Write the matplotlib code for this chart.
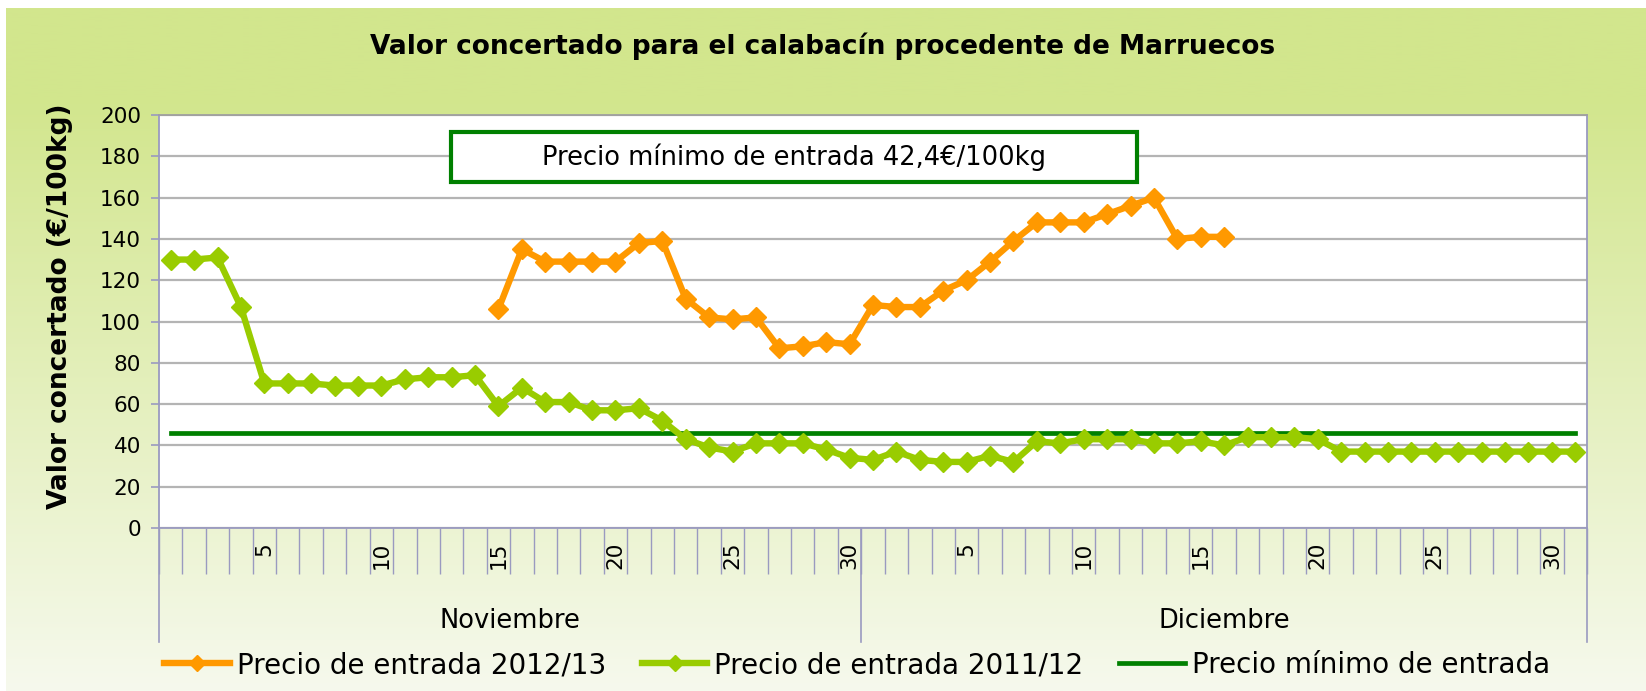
import matplotlib
matplotlib.use('Agg')
import matplotlib.pyplot as plt
import numpy as np
from matplotlib import font_manager
from matplotlib.patches import Rectangle
from matplotlib.colors import to_rgb

# ---------- DATA ----------
days = list(range(1, 31)) + list(range(1, 32))          # Nov 1..30, Dec 1..31
months = ['Noviembre', 'Diciembre']
month_len = [30, 31]

# Precio de entrada 2011/12 (one value per day)
precio_2011 = [130, 130, 131, 107, 70, 70, 70, 69, 69, 69,
               72, 73, 73, 74, 59, 68, 61, 61, 57, 57,
               58, 52, 43, 39, 37, 41, 41, 41, 38, 34,
               33, 37, 33, 32, 32, 35, 32, 42, 41, 43,
               43, 43, 41, 41, 42, 40, 44, 44, 44, 43,
               37, 37, 37, 37, 37, 37, 37, 37, 37, 37, 37]

# Precio de entrada 2012/13 (starts Nov 15, ends Dec 16)
precio_2012_start = 14
precio_2012 = [106, 135, 129, 129, 129, 129, 138, 139, 111, 102,
               101, 102, 87, 88, 90, 89, 108, 107, 107, 115,
               120, 129, 139, 148, 148, 148, 152, 156, 160, 140,
               141, 141]

# Precio minimo de entrada (as drawn)
precio_minimo = 46

yticks = list(range(0, 201, 20))
xtick_days = [5, 10, 15, 20, 25, 30]

# ---------- FONTS ----------
names = {f.name for f in font_manager.fontManager.ttflist}
narrow = 'Liberation Sans Narrow' if 'Liberation Sans Narrow' in names else 'DejaVu Sans'
plt.rcParams['font.family'] = [narrow, 'DejaVu Sans']

W, H = 1646, 691
fig = plt.figure(figsize=(W / 100, H / 100), dpi=100)

# background gradient
bg = fig.add_axes([6 / W, 0, 1 - 6 / W, 1 - 8 / H], zorder=-10)
top_c = np.array(to_rgb('#d2e68d'))
bot_c = np.array(to_rgb('#f6f9ed'))
t = np.clip(np.linspace(-0.15, 1.0, 256), 0, 1)[:, None]
grad = top_c * (1 - t) + bot_c * t
bg.imshow(grad[:, None, :], aspect='auto', extent=[0, 1, 0, 1])
bg.axis('off')

# plot area
L, R, T, B = 159, 1587, 115, 528
ax = fig.add_axes([L / W, 1 - B / H, (R - L) / W, (B - T) / H])
ax.set_facecolor('white')

n = len(days)
x = np.arange(n)
ax.plot(x, [precio_minimo] * n, color='#008000', lw=3.4, zorder=3,
        label='Precio mínimo de entrada')
ax.plot(x, precio_2011, color='#99cc00', lw=4.6, marker='D', ms=10, zorder=4,
        label='Precio de entrada 2011/12')
x12 = np.arange(precio_2012_start, precio_2012_start + len(precio_2012))
ax.plot(x12, precio_2012, color='#ff9900', lw=4.6, marker='D', ms=10, zorder=5,
        label='Precio de entrada 2012/13')

ax.set_xlim(-0.5, n - 0.5)
ax.set_ylim(0, 200)
ax.set_yticks(yticks)
ax.yaxis.grid(True, color='#b4b4b4', lw=1.6)
ax.set_axisbelow(True)
axis_c = '#9a9ac0'
for s in ax.spines.values():
    s.set_color(axis_c)
    s.set_linewidth(1.3)
ax.spines['top'].set_color('#a0a0a0')
ax.tick_params(axis='y', length=6, width=1.2, color=axis_c, pad=7, labelsize=15.5)

# x axis: day ticks per category, labels every 5
ax.set_xticks(np.arange(-0.5, n, 1.0), minor=True)
ax.tick_params(axis='x', which='minor', length=33, width=1.0, color=axis_c)
pos = []
lab = []
off = 0
for m, ln in zip(months, month_len):
    for d in xtick_days:
        if d <= ln:
            pos.append(off + d - 1)
            lab.append(str(d))
    off += ln
ax.set_xticks(pos)
ax.set_xticklabels(lab, rotation=90, fontsize=15.5)
ax.tick_params(axis='x', which='major', length=0, pad=10)

# month separators and labels
tr = ax.get_xaxis_transform()
depth = (642 - B) / (B - T)
off = 0
bounds = [-0.5]
for m, ln in zip(months, month_len):
    ax.text(off + (ln - 1) / 2, -(621 - B) / (B - T), m, transform=tr,
            ha='center', va='center', fontsize=18.5)
    off += ln
    bounds.append(off - 0.5)
for b in bounds:
    ax.plot([b, b], [0, -depth], transform=tr, color=axis_c, lw=1.2, clip_on=False)

# titles
fig.text(0.5, 1 - 46 / H, 'Valor concertado para el calabacín procedente de Marruecos',
         ha='center', va='center', fontsize=19, fontweight='bold',
         family='DejaVu Sans')
fig.text(60 / W, 1 - 306 / H, 'Valor concertado (€/100kg)', rotation=90,
         ha='center', va='center', fontsize=19, fontweight='bold',
         family='DejaVu Sans')

# box with minimum price
bx0, bx1, by0, by1 = 451, 1137, 132, 182
fig.add_artist(Rectangle((bx0 / W, 1 - by1 / H), (bx1 - bx0) / W, (by1 - by0) / H,
                         transform=fig.transFigure, facecolor='white',
                         edgecolor='#008000', lw=3, zorder=10))
fig.text((bx0 + bx1) / 2 / W, 1 - (by0 + by1) / 2 / H,
         'Precio mínimo de entrada 42,4€/100kg', ha='center', va='center',
         fontsize=18.5, zorder=11)

# legend
h, l = ax.get_legend_handles_labels()
order = [2, 1, 0]
leg = fig.legend([h[i] for i in order], [l[i] for i in order], loc='center',
                 bbox_to_anchor=(857 / W, 1 - 665 / H), ncol=3, frameon=False,
                 fontsize=20, handlelength=2.35, handletextpad=0.25,
                 columnspacing=1.3, markerscale=0.8)

fig.savefig('out.png', dpi=100)
